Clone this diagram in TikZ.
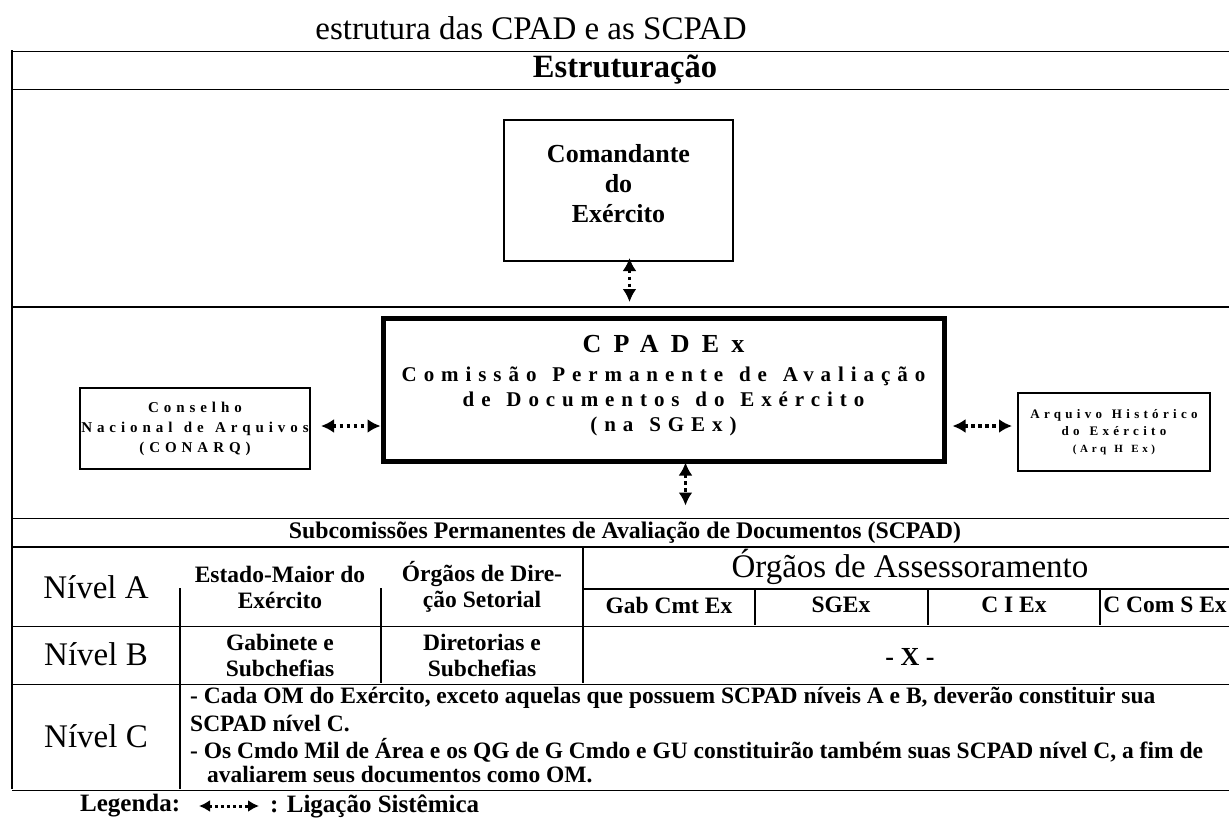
\documentclass[tikz,border=0pt]{standalone}
\usepackage{fontspec}
\setmainfont{Liberation Serif}
\usetikzlibrary{arrows.meta}
\newfontfamily\spaced[LetterSpace=33,WordSpace=1.3]{Liberation Serif}
\begin{document}
\begin{tikzpicture}[x=1pt,y=-1pt,
  frame/.style={line width=1.6pt},
  dframe/.style={double, double distance=1.2pt, line width=0.9pt},
  box/.style={draw,line width=2pt,align=center,inner sep=0pt},
  sysarrow/.style={{Latex[length=13pt,width=14pt]}-{Latex[length=13pt,width=14pt]},line width=3.5pt,dash pattern=on 3.5pt off 3.5pt},
  legarrow/.style={{Latex[length=11pt,width=12pt]}-{Latex[length=11pt,width=12pt]},line width=3pt,dash pattern=on 3pt off 3pt},
  cell/.style={align=center,inner sep=0pt,font=\bfseries\fontsize{23.5}{26}\selectfont},
  niv/.style={inner sep=0pt,font=\fontsize{33}{35}\selectfont},
  ctext/.style={anchor=west,inner sep=0pt,font=\bfseries\fontsize{23.5}{26}\selectfont}]
\useasboundingbox (0,0) rectangle (1229,819);
\clip (0,0) rectangle (1229,819);

% title
\node[inner sep=0pt,font=\fontsize{33}{35}\selectfont] (title) at (531,28) {estrutura das CPAD e as SCPAD};

% frame
\draw[dframe] (12,50) -- (1240,50);
\draw[dframe] (12,88) -- (1240,88);
\draw[frame] (12,307) -- (1240,307);
\draw[dframe] (12,517) -- (1240,517);
\draw[frame] (12,547) -- (1240,547);
\draw[frame] (583,589) -- (1240,589);
\draw[dframe] (12,625) -- (1240,625);
\draw[dframe] (12,683) -- (1240,683);
\draw[dframe] (12,789) -- (1240,789);
\draw[frame] (12,50) -- (12,789);
\draw[frame] (180,588) -- (180,789);
\draw[frame] (381,588) -- (381,683);
\draw[frame] (583,547) -- (583,683);
\draw[frame] (755,589) -- (755,625);
\draw[frame] (928,589) -- (928,625);
\draw[frame] (1100,589) -- (1100,625);

\node[inner sep=0pt,font=\bfseries\fontsize{32.5}{34}\selectfont] (hdr) at (625,70) {Estruturação};

% boxes
\node[box,minimum width=229pt,minimum height=141pt,text depth=14pt,font=\bfseries\fontsize{26}{30}\selectfont] (cmd) at (618.5,190.5) {Comandante\\do\\Exército};
\node[box,line width=5pt,minimum width=561pt,minimum height=143pt,text depth=12pt,font=\spaced\bfseries\fontsize{21}{25}\selectfont] (cpad) at (663.5,389.5)
  {{\addfontfeature{LetterSpace=47}\fontsize{26}{26}\selectfont CPADEx}\\[4pt]Comissão Permanente de Avaliação\\de Documentos do Exército\\(na SGEx)};
\node[box,minimum width=230pt,minimum height=81pt,font=\spaced\bfseries\fontsize{15}{20}\selectfont] (cons) at (195,428.5) {Conselho\\Nacional de Arquivos\\(CONARQ)};
\node[box,minimum width=192pt,minimum height=78pt,font=\spaced\bfseries\fontsize{13}{17}\selectfont] (arq) at (1114,432) {Arquivo Histórico\\do Exército\\{\fontsize{11}{14}\selectfont(Arq H Ex)}};

% arrows
\coordinate (cmdtop) at ([xshift=11pt,yshift=4pt]cmd.south);
\draw[sysarrow] (cmdtop) -- ++(0,44) coordinate (cmdend);
\coordinate (l1) at ([xshift=10pt,yshift=2.5pt]cons.east);
\draw[sysarrow] (l1) -- (cpad.west |- l1);
\coordinate (r1) at ([xshift=6pt]cpad.east |- l1);
\draw[sysarrow] (r1) -- ([xshift=-5pt]arq.west |- l1);
\coordinate (b1) at ([xshift=22pt,yshift=1pt]cpad.south);
\draw[sysarrow] (b1) -- ++(0,43) coordinate (cpadend);

% table text
\node[inner sep=0pt,font=\bfseries\fontsize{23.8}{26}\selectfont] (scpad) at (625,533) {Subcomissões Permanentes de Avaliação de Documentos (SCPAD)};
\node[niv] (na) at (96,587) {Nível A};
\node[niv] (nb) at (96,654) {Nível B};
\node[niv] (nc) at (96,736) {Nível C};
\node[cell] (ema) at (280,587) {Estado-Maior do\\Exército};
\node[cell] (ods) at (482,587) {Órgãos de Dire-\\ção Setorial};
\node[inner sep=0pt,font=\fontsize{33}{35}\selectfont] (oa) at (910,567) {Órgãos de Assessoramento};
\node[cell] (gab) at (669,605) {Gab Cmt Ex};
\node[cell] (sgex) at (841,605) {SGEx};
\node[cell] (ciex) at (1014,605) {C I Ex};
\node[cell] (ccom) at (1165,605) {C Com S Ex};
\node[cell] (gs) at (280,655) {Gabinete e\\Subchefias};
\node[cell] (ds) at (482,655) {Diretorias e\\Subchefias};
\node[cell,font=\bfseries\fontsize{26}{28}\selectfont] (xx) at (910,657) {- X -};

\node[ctext] (c1) at (190,698) {- Cada OM do Exército, exceto aquelas que possuem SCPAD níveis A e B, deverão constituir sua};
\node[ctext] (c2) at (190,723) {SCPAD nível C.};
\node[ctext] (c3) at (190,750) {- Os Cmdo Mil de Área e os QG de G Cmdo e GU constituirão também suas SCPAD nível C, a fim de};
\node[ctext] (c4) at (207,775) {avaliarem seus documentos como OM.};

% legend
\node[ctext,font=\bfseries\fontsize{25}{27}\selectfont] (leg) at (80,806) {Legenda:};
\coordinate (la) at (199,806);
\coordinate (lb) at (259,806);
\draw[legarrow] (la) -- (lb);
\node[ctext,font=\bfseries\fontsize{25}{27}\selectfont] (legt) at (270,806) {: Ligação Sistêmica};
\end{tikzpicture}
\end{document}
